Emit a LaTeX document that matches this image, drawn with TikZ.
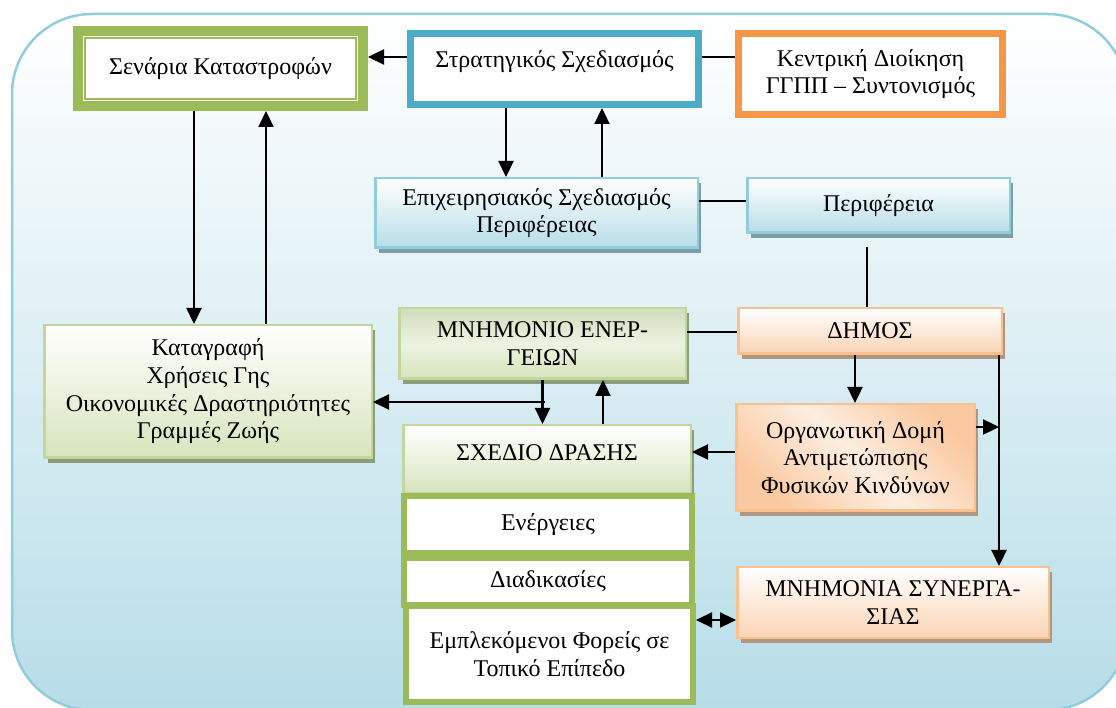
\documentclass[tikz,border=0pt]{standalone}
\usepackage{fontspec}
\setmainfont{Liberation Serif}
\usetikzlibrary{arrows.meta, shadows, calc}
\definecolor{FrameBlue}{RGB}{75,172,198}
\definecolor{FrameOrange}{RGB}{247,150,70}
\definecolor{FrameGreen}{RGB}{155,187,89}
\definecolor{LineBlue}{RGB}{146,205,220}
\definecolor{PaleBlue}{RGB}{183,221,232}
\definecolor{PeachLine}{RGB}{250,192,144}
\definecolor{Peach}{RGB}{251,212,180}
\definecolor{GreenLine}{RGB}{195,214,155}
\definecolor{PaleGreen}{RGB}{215,228,189}
\definecolor{ShadowBlue}{RGB}{125,158,168}
\definecolor{ShadowPeach}{RGB}{176,150,128}
\definecolor{ShadowGreen}{RGB}{138,158,122}

\begin{document}
\begin{tikzpicture}[x=1pt, y=1pt,
    txt/.style={align=center, inner sep=2pt, font=\fontsize{24}{27.6}\selectfont},
    box/.style={txt, draw, line width=2.5pt},
    bluebox/.style={box, draw=LineBlue, top color=white, bottom color=PaleBlue,
      general shadow={fill=ShadowBlue, shadow xshift=3.5pt, shadow yshift=-5pt}},
    peachbox/.style={box, draw=PeachLine, top color=white, bottom color=Peach,
      general shadow={fill=ShadowPeach, shadow xshift=3.5pt, shadow yshift=-5pt}},
    greenbox/.style={box, draw=GreenLine, top color=white, bottom color=PaleGreen,
      general shadow={fill=ShadowGreen, shadow xshift=3.5pt, shadow yshift=-5pt}},
    framed/.style={txt, draw=#1, fill=white, line width=7pt},
    link/.style={line width=2.3pt},
    arr/.style={link, -{Triangle[length=16pt, width=15pt]}},
    dblarr/.style={link, {Triangle[length=16pt, width=15pt]}-{Triangle[length=16pt, width=15pt]}}]

    \useasboundingbox (0,0) rectangle (1116,707);

    % Background panel
    \draw[LineBlue, line width=2.5pt, top color=white, bottom color=PaleBlue,
      rounded corners=80pt] (12,693) rectangle (1127,-3);

    % Top row
    \node[framed=FrameGreen, line width=10pt, minimum width=285pt, minimum height=75pt]
      (senaria) at (220.5,638.5) {Σενάρια Καταστροφών};
    \draw[FrameGreen, line width=1.5pt] ([shift={(12pt,-12pt)}]senaria.north west)
      rectangle ([shift={(-12pt,12pt)}]senaria.south east);
    \node[framed=FrameBlue, minimum width=288pt, minimum height=71pt, text depth=19pt]
      (strateg) at (554.5,638) {Στρατηγικός Σχεδιασμός};
    \node[framed=FrameOrange, minimum width=264pt, minimum height=81pt]
      (kentriki) at (870.5,633) {Κεντρική Διοίκηση\\ΓΓΠΠ – Συντονισμός};

    % Region level
    \node[bluebox, minimum width=322.5pt, minimum height=69.5pt]
      (epixeir) at (536.5,494) {Επιχειρησιακός Σχεδιασμός\\Περιφέρειας};
    \node[bluebox, minimum width=262.5pt, minimum height=54.5pt]
      (perifereia) at (878.5,501.5) {Περιφέρεια};

    % Municipality level
    \node[peachbox, minimum width=263.5pt, minimum height=45.5pt]
      (dimos) at (870,376) {ΔΗΜΟΣ};
    \node[box, draw=PeachLine, left color=PeachLine!85, right color=PeachLine!85,
      middle color=Peach!40, shading angle=135,
      general shadow={fill=ShadowPeach, shadow xshift=3.5pt, shadow yshift=-5pt},
      minimum width=238.5pt, minimum height=106.5pt]
      (organotiki) at (855.5,249.5) {Οργανωτική Δομή\\Αντιμετώπισης\\Φυσικών Κινδύνων};
    \node[peachbox, minimum width=311.5pt, minimum height=70.5pt]
      (synergasia) at (893,104.5) {ΜΝΗΜΟΝΙΑ ΣΥΝΕΡΓΑ-\\ΣΙΑΣ};

    % Plans
    \node[greenbox, top color=PaleGreen!95!black!90, bottom color=PaleGreen,
      middle color=PaleGreen!45, minimum width=286.5pt, minimum height=70.5pt]
      (mnimonio) at (542.5,363.5) {ΜΝΗΜΟΝΙΟ ΕΝΕΡ-\\ΓΕΙΩΝ};
    \node[greenbox, minimum width=327.5pt, minimum height=132.5pt]
      (katagrafi) at (208,315.5) {Καταγραφή\\Χρήσεις Γης\\Οικονομικές Δραστηριότητες\\Γραμμές Ζωής};
    \node[greenbox, minimum width=287.5pt, minimum height=68.5pt, text depth=14pt]
      (sxedio) at (547,247.5) {ΣΧΕΔΙΟ ΔΡΑΣΗΣ};
    \node[framed=FrameGreen, line width=6pt, minimum width=288pt, minimum height=57pt]
      (energeies) at (548,182.5) {Ενέργειες};
    \node[framed=FrameGreen, line width=6pt, minimum width=288pt, minimum height=47pt]
      (diadikasies) at (548,125.5) {Διαδικασίες};
    \node[framed=FrameGreen, line width=6pt, minimum width=287pt, minimum height=96pt]
      (foreis) at (549.5,53) {Εμπλεκόμενοι Φορείς σε\\Τοπικό Επίπεδο};

    % Connectors, top
    \draw[arr] ([yshift=12pt]strateg.west) -- ([yshift=12pt]strateg.west -| senaria.east);
    \draw[link] ([yshift=12pt]strateg.east) -- ([yshift=12pt]strateg.east -| kentriki.west);
    \draw[arr] ([xshift=-48.5pt]strateg.south) -- ([xshift=-48.5pt]strateg.south |- epixeir.north);
    \draw[arr] ([xshift=65.5pt]epixeir.north) -- ([xshift=65.5pt]epixeir.north |- strateg.south);
    \draw[arr] ([xshift=-26.5pt]senaria.south) -- ([xshift=-26.5pt]senaria.south |- katagrafi.north);
    \draw[arr] ([xshift=58pt]katagrafi.north) -- ([xshift=58pt]katagrafi.north |- senaria.south);

    % Connectors, region and municipality
    \draw[link] ([yshift=12pt]epixeir.east) -- ([yshift=12pt]epixeir.east -| perifereia.west);
    \draw[link, shorten <=13pt] ([xshift=-11.5pt]perifereia.south)
      -- ([xshift=-11.5pt]perifereia.south |- dimos.north);
    \draw[link] ([yshift=11.5pt]mnimonio.east) -- ([yshift=11.5pt]mnimonio.east -| dimos.west);
    \draw[arr] ([xshift=-15pt]dimos.south) -- ([xshift=-15pt]dimos.south |- organotiki.north);
    \coordinate (trunk) at ([xshift=129pt]dimos.south);
    \draw[arr] (trunk) -- (trunk |- synergasia.north);
    \draw[arr] ([yshift=30.5pt]organotiki.east) -- ([yshift=30.5pt]organotiki.east -| trunk);
    \draw[arr] ([yshift=5.5pt]organotiki.west) -- ([yshift=5.5pt]organotiki.west -| sxedio.east);

    % Connectors, plans
    \coordinate (branch) at ($(mnimonio.south)!0.5!(sxedio.north)$);
    \draw[arr] (mnimonio.south) -- (mnimonio.south |- sxedio.north);
    \draw[arr] (branch) -- (branch -| katagrafi.east);
    \draw[arr] ([xshift=56pt]sxedio.north) -- ([xshift=56pt]sxedio.north |- mnimonio.south);
    \draw[dblarr] ([yshift=34pt]foreis.east) -- ([yshift=34pt]foreis.east -| synergasia.west);
\end{tikzpicture}
\end{document}
